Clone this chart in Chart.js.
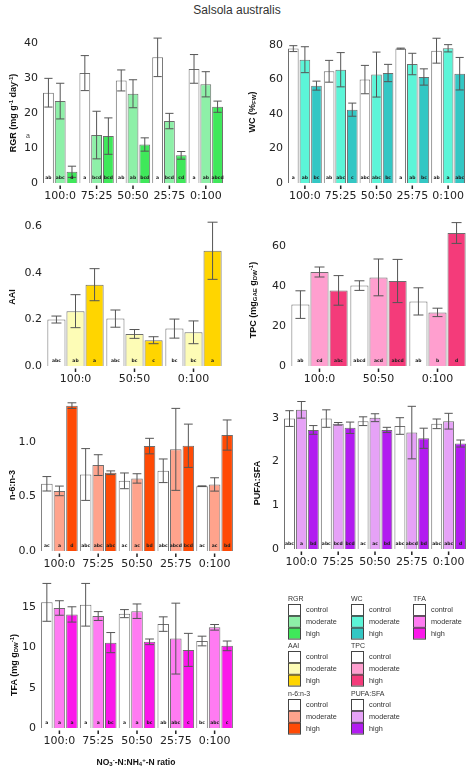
<!DOCTYPE html>
<html>
<head>
<meta charset="utf-8">
<script src="https://cdn.jsdelivr.net/npm/chart.js@4.4.0/dist/chart.umd.min.js"></script>
<style>
  body { margin: 0; width: 474px; height: 769px; background: #fff; position: relative; overflow: hidden; font-family: "Liberation Sans", Arial, sans-serif; color: #333; }
  canvas { position: absolute; }
  .title { position: absolute; left: 0; width: 474px; top: 3px; text-align: center; font-size: 12px; color: #333; }
  .ytitle { position: absolute; font: bold 9px "Liberation Sans", Arial, sans-serif; color: #111; white-space: nowrap; transform: translate(-50%, -50%) rotate(-90deg); line-height: 11px; }
  .ytitle sup, .xtitle sup { font-size: 6px; vertical-align: 3px; }
  .ytitle sub, .xtitle sub { font-size: 6px; vertical-align: -1px; }
  .xtitle { position: absolute; font: bold 8.5px "Liberation Sans", Arial, sans-serif; color: #111; white-space: nowrap; transform: translate(-50%, -50%); }
</style>
</head>
<body>
<div class="title">Salsola australis</div>
<script>
const ratios5 = ['100:0', '75:25', '50:50', '25:75', '0:100'];
const ratios3 = ['100:0', '50:50', '0:100'];
const levels = ['control', 'moderate', 'high'];

// rows: control, moderate, high
const rgrMean = [[25.8, 31.4, 29.3, 35.9, 32.6], [23.4, 13.7, 25.5, 17.7, 28.2], [3.2, 13.4, 11.0, 7.9, 21.8]];
const rgrErr = [[4.1, 5.0, 3.0, 5.5, 4.1], [5.1, 6.8, 4.0, 2.2, 3.6], [1.6, 5.2, 1.9, 1.1, 1.6]];
const rgrLetters = [['ab', 'a', 'ab', 'a', 'a'], ['abc', 'bcd', 'ab', 'bcd', 'ab'], ['d', 'bcd', 'bcd', 'cd', 'abcd']];

const wcMean = [[77.7, 64.6, 59.8, 77.7, 76.5], [71.3, 65.5, 62.7, 68.8, 77.9], [56.3, 42.4, 63.6, 61.3, 63.2]];
const wcErr = [[1.7, 6.3, 8.2, 0.3, 7.2], [7.5, 9.9, 13.0, 6.2, 2.1], [2.6, 3.8, 5.0, 4.7, 9.4]];
const wcLetters = [['a', 'ab', 'abc', 'a', 'ab'], ['ab', 'abc', 'abc', 'ab', 'a'], ['bc', 'c', 'bc', 'bc', 'abc']];

const aaiMean = [[0.200, 0.204, 0.161], [0.236, 0.138, 0.145], [0.350, 0.111, 0.496]];
const aaiErr = [[0.015, 0.037, 0.041], [0.071, 0.019, 0.049], [0.069, 0.015, 0.123]];
const aaiLetters = [['abc', 'abc', 'bc'], ['ab', 'bc', 'bc'], ['a', 'c', 'a']];

const tpcMean = [[30.7, 40.2, 32.3], [47.0, 44.3, 26.8], [37.8, 42.5, 66.5]];
const tpcErr = [[6.9, 2.4, 6.8], [2.5, 9.2, 2.1], [7.4, 10.8, 5.2]];
const tpcLetters = [['ab', 'abcd', 'ab'], ['cd', 'acd', 'b'], ['abc', 'abcd', 'd']];

const n6n3Mean = [[0.615, 0.700, 0.642, 0.734, 0.593], [0.550, 0.786, 0.664, 0.930, 0.609], [1.330, 0.716, 0.960, 0.963, 1.061]];
const n6n3Err = [[0.066, 0.237, 0.072, 0.108, 0.003], [0.044, 0.095, 0.043, 0.375, 0.061], [0.026, 0.017, 0.071, 0.198, 0.138]];
const n6n3Letters = [['ac', 'abc', 'ac', 'abc', 'ac'], ['a', 'abc', 'ac', 'abcd', 'ac'], ['d', 'abc', 'bd', 'bcd', 'bd']];

const pufaMean = [[2.98, 2.98, 2.92, 2.81, 2.86], [3.18, 2.86, 3.00, 2.66, 2.92], [2.72, 2.77, 2.72, 2.53, 2.41]];
const pufaErr = [[0.18, 0.20, 0.10, 0.19, 0.11], [0.19, 0.03, 0.09, 0.60, 0.18], [0.10, 0.13, 0.06, 0.23, 0.08]];
const pufaLetters = [['abc', 'abc', 'ac', 'abc', 'abc'], ['a', 'bcd', 'ac', 'abcd', 'abc'], ['bd', 'bcd', 'bd', 'bd', 'd']];

const tfaMean = [[15.6, 15.3, 14.2, 12.9, 10.8], [14.9, 13.9, 14.5, 11.1, 12.5], [14.1, 10.6, 10.7, 9.7, 10.2]];
const tfaErr = [[2.35, 2.65, 0.5, 0.9, 0.6], [0.9, 0.55, 0.9, 4.4, 0.35], [0.95, 1.25, 0.35, 2.05, 0.6]];
const tfaLetters = [['a', 'a', 'a', 'ab', 'bc'], ['a', 'a', 'a', 'abc', 'abc'], ['a', 'bc', 'bc', 'c', 'c']];

const rgrColors = ['#ffffff', '#8ef0a8', '#3fe85a'];
const wcColors = ['#ffffff', '#5cf5d8', '#33c7c4'];
const aaiColors = ['#ffffff', '#fdfcb6', '#ffd500'];
const tpcColors = ['#ffffff', '#ff9fcf', '#f43b7a'];
const n6n3Colors = ['#ffffff', '#ffa38c', '#ff4a05'];
const pufaColors = ['#ffffff', '#e6a2f7', '#b21cf0'];
const tfaColors = ['#ffffff', '#ff7bf2', '#fb18ea'];

// error bars, significance letters and short tick marks
const barExtras = {
  id: 'barExtras',
  afterDraw(chart) {
    const ctx = chart.ctx, y = chart.scales.y, x = chart.scales.x, area = chart.chartArea;
    ctx.save();
    chart.data.datasets.forEach((ds, i) => {
      chart.getDatasetMeta(i).data.forEach((bar, j) => {
        const v = ds.data[j], e = ds.errs[j];
        const yt = y.getPixelForValue(v + e), yb = y.getPixelForValue(v - e);
        const cap = Math.min(bar.width * 0.38, 5);
        ctx.strokeStyle = '#555';
        ctx.lineWidth = 1;
        ctx.beginPath();
        ctx.moveTo(bar.x, yt); ctx.lineTo(bar.x, yb);
        ctx.moveTo(bar.x - cap, yt); ctx.lineTo(bar.x + cap, yt);
        ctx.moveTo(bar.x - cap, yb); ctx.lineTo(bar.x + cap, yb);
        ctx.stroke();
        ctx.fillStyle = '#222';
        ctx.font = 'bold 4.5px "DejaVu Sans"';
        ctx.textAlign = 'center';
        ctx.textBaseline = 'middle';
        ctx.fillText(ds.letters[j], bar.x, area.bottom - 5);
      });
    });
    ctx.fillStyle = '#222';
    x.ticks.forEach((t, k) => {
      const px = x.getPixelForTick(k);
      ctx.fillRect(px - 0.75, area.bottom + 2.5, 1.5, 3.5);
    });
    ctx.restore();
  }
};

function panel(labels, means, errs, letters, colors, box, yMax, step, decimals) {
  const yW = 40, xH = 26, padTop = 14, padRight = 8;
  const cl = Math.round(box.l - yW), ct = Math.round(box.t - padTop);
  const cw = Math.round(box.r + padRight - cl), ch = Math.round(box.b + xH - ct);
  const c = document.createElement('canvas');
  c.width = cw; c.height = ch;
  c.style.left = cl + 'px'; c.style.top = ct + 'px';
  document.body.appendChild(c);
  const tickFont = { family: 'DejaVu Sans', size: 11 };
  new Chart(c, {
    type: 'bar',
    data: {
      labels: labels,
      datasets: levels.map((lv, i) => ({
        label: lv,
        data: means[i],
        errs: errs[i],
        letters: letters[i],
        backgroundColor: colors[i],
        borderColor: '#6e6e6e',
        borderWidth: 1,
        categoryPercentage: 0.97,
        barPercentage: labels.length === 3 ? 0.95 : 0.92
      }))
    },
    options: {
      responsive: false,
      animation: false,
      layout: { padding: { top: padTop, right: padRight, left: 0, bottom: 0 } },
      plugins: { legend: { display: false }, tooltip: { enabled: false } },
      scales: {
        x: {
          grid: { display: false, drawTicks: false },
          border: { display: false },
          ticks: { padding: 7, color: '#222', font: tickFont, maxRotation: 0, autoSkip: false },
          afterFit: s => { s.height = xH; }
        },
        y: {
          min: 0, max: yMax,
          grid: { display: false, drawTicks: false },
          border: { display: false },
          ticks: { stepSize: step, includeBounds: false, padding: 4, color: '#222', font: tickFont,
                   callback: v => v.toFixed(decimals) },
          afterFit: s => { s.width = yW; }
        }
      }
    },
    plugins: [barExtras]
  });
}

panel(ratios5, rgrMean, rgrErr, rgrLetters, rgrColors, { l: 41.5, r: 223.5, t: 36.3, b: 182.7 }, 42, 10, 0);
panel(ratios5, wcMean, wcErr, wcLetters, wcColors, { l: 286.5, r: 465.5, t: 36.4, b: 183 }, 85, 20, 0);
panel(ratios3, aaiMean, aaiErr, aaiLetters, aaiColors, { l: 45.5, r: 223, t: 215.4, b: 366 }, 0.65, 0.2, 1);
panel(ratios3, tpcMean, tpcErr, tpcLetters, tpcColors, { l: 290, r: 467, t: 220, b: 366 }, 73, 20, 0);
panel(ratios5, n6n3Mean, n6n3Err, n6n3Letters, n6n3Colors, { l: 40, r: 233.5, t: 398.4, b: 551 }, 1.4, 0.5, 1);
panel(ratios5, pufaMean, pufaErr, pufaLetters, pufaColors, { l: 282.5, r: 466.5, t: 398.3, b: 549 }, 3.45, 1, 0);
panel(ratios5, tfaMean, tfaErr, tfaLetters, tfaColors, { l: 40, r: 233.5, t: 578.7, b: 728 }, 18.5, 5, 0);

// axis titles (HTML so sub/superscripts render)
const yTitles = [
  { html: 'RGR (mg g<sup>-1</sup> day<sup>-1</sup>)', x: 12, y: 113 },
  { html: 'WC (%<sub>FW</sub>)', x: 253, y: 112 },
  { html: 'AAI', x: 12, y: 297 },
  { html: 'TPC (mg<sub>GAE</sub> g<sub>DW</sub><sup>-1</sup>)', x: 253, y: 300 },
  { html: 'n-6:n-3', x: 12, y: 485 },
  { html: 'PUFA:SFA', x: 257, y: 483 },
  { html: 'TFA (mg g<sub>DW</sub><sup>-1</sup>)', x: 14, y: 665 }
];
yTitles.forEach(t => {
  const d = document.createElement('div');
  d.className = 'ytitle';
  d.innerHTML = t.html;
  d.style.left = t.x + 'px'; d.style.top = t.y + 'px';
  document.body.appendChild(d);
});
const xt = document.createElement('div');
xt.className = 'xtitle';
xt.innerHTML = 'NO<sub>3</sub><sup>-</sup>-N:NH<sub>4</sub><sup>+</sup>-N ratio';
xt.style.left = '136px'; xt.style.top = '762px';
document.body.appendChild(xt);

const stray = document.createElement('div');
stray.style.cssText = 'position:absolute;left:26px;top:132px;font-size:7px;color:#444';
stray.textContent = 'a';
document.body.appendChild(stray);

// legend, drawn on its own canvas
const legendGroups = [
  { name: 'RGR', colors: rgrColors, x: 288, y: 599 },
  { name: 'WC', colors: wcColors, x: 351, y: 599 },
  { name: 'TFA', colors: tfaColors, x: 413, y: 599 },
  { name: 'AAI', colors: aaiColors, x: 288, y: 646 },
  { name: 'TPC', colors: tpcColors, x: 351, y: 646 },
  { name: 'n-6:n-3', colors: n6n3Colors, x: 288, y: 694 },
  { name: 'PUFA:SFA', colors: pufaColors, x: 351, y: 694 }
];
const lg = document.createElement('canvas');
const lgLeft = 280, lgTop = 588;
lg.width = 194; lg.height = 160;
lg.style.left = lgLeft + 'px'; lg.style.top = lgTop + 'px';
document.body.appendChild(lg);
const lc = lg.getContext('2d');
lc.textBaseline = 'middle';
legendGroups.forEach(g => {
  const gx = g.x - lgLeft, gy = g.y - lgTop;
  lc.fillStyle = '#333';
  lc.font = '7px "Liberation Sans"';
  lc.fillText(g.name, gx, gy);
  levels.forEach((lv, i) => {
    const top = gy + 5 + i * 11.8;
    lc.fillStyle = g.colors[i];
    lc.fillRect(gx, top, 12, 11);
    lc.strokeStyle = '#444';
    lc.lineWidth = 1;
    lc.strokeRect(gx + 0.5, top + 0.5, 12, 11);
    lc.fillStyle = '#333';
    lc.font = '7.3px "Liberation Sans"';
    lc.fillText(lv, gx + 18, top + 6);
  });
});
</script>
</body>
</html>
